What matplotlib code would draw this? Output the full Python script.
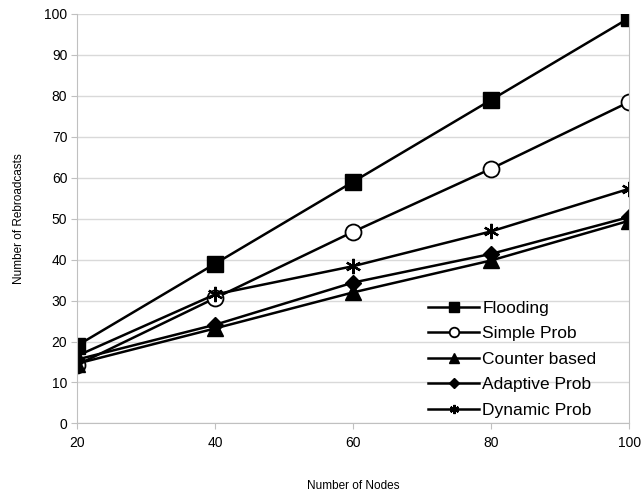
import matplotlib
matplotlib.use("Agg")
import matplotlib.pyplot as plt

nodes = [20, 40, 60, 80, 100]
flooding = [19, 39, 59, 79, 99]
simple_prob = [14.3, 30.6, 46.8, 62.2, 78.5]
counter_based = [14.6, 23.2, 32.0, 39.8, 49.5]
adaptive_prob = [15.6, 24.1, 34.4, 41.4, 50.4]
dynamic_prob = [16.5, 31.5, 38.4, 46.9, 57.3]

series = [
    ("Flooding", flooding, dict(marker="s", markersize=11, markerfacecolor="black")),
    ("Simple Prob", simple_prob, dict(marker="o", markersize=11.5, markerfacecolor="white", markeredgewidth=1.3)),
    ("Counter based", counter_based, dict(marker="^", markersize=11, markerfacecolor="black")),
    ("Adaptive Prob", adaptive_prob, dict(marker="D", markersize=8.5, markerfacecolor="black")),
    ("Dynamic Prob", dynamic_prob, dict(marker=(6, 2, 0), markersize=11, markeredgewidth=1.6)),
]

plt.rcParams["font.family"] = ["Liberation Sans", "DejaVu Sans"]

fig = plt.figure(figsize=(6.42, 4.97), dpi=100)
ax = fig.add_axes([0.12, 0.148, 0.86, 0.824])

for name, vals, style in series:
    ax.plot(nodes, vals, color="black", linewidth=1.8, markeredgecolor="black",
            label=name, **style)

ax.set_xlim(20, 100)
ax.set_ylim(0, 100)
ax.set_xticks(nodes)
ax.set_yticks(range(0, 101, 10))
ax.grid(axis="y", color="#d9d9d9", linewidth=1)
ax.set_axisbelow(True)
for s in ["left", "bottom", "right"]:
    ax.spines[s].set_color("#c0c0c0")
ax.spines["top"].set_visible(False)
ax.tick_params(axis="both", colors="#c0c0c0", labelcolor="black", labelsize=10, length=4)
ax.tick_params(axis="x", pad=5)
ax.tick_params(axis="y", pad=3)

ax.set_xlabel("Number of Nodes", fontsize=8.5, labelpad=22)
ax.set_ylabel("Number of Rebroadcasts", fontsize=8.5, labelpad=14)

leg = ax.legend(loc="lower right", bbox_to_anchor=(0.969, -0.025), frameon=False,
                fontsize=12.5, handlelength=2.9, labelspacing=0.6, handletextpad=0.2,
                markerscale=0.6)

fig.savefig("out.png", dpi=100)
